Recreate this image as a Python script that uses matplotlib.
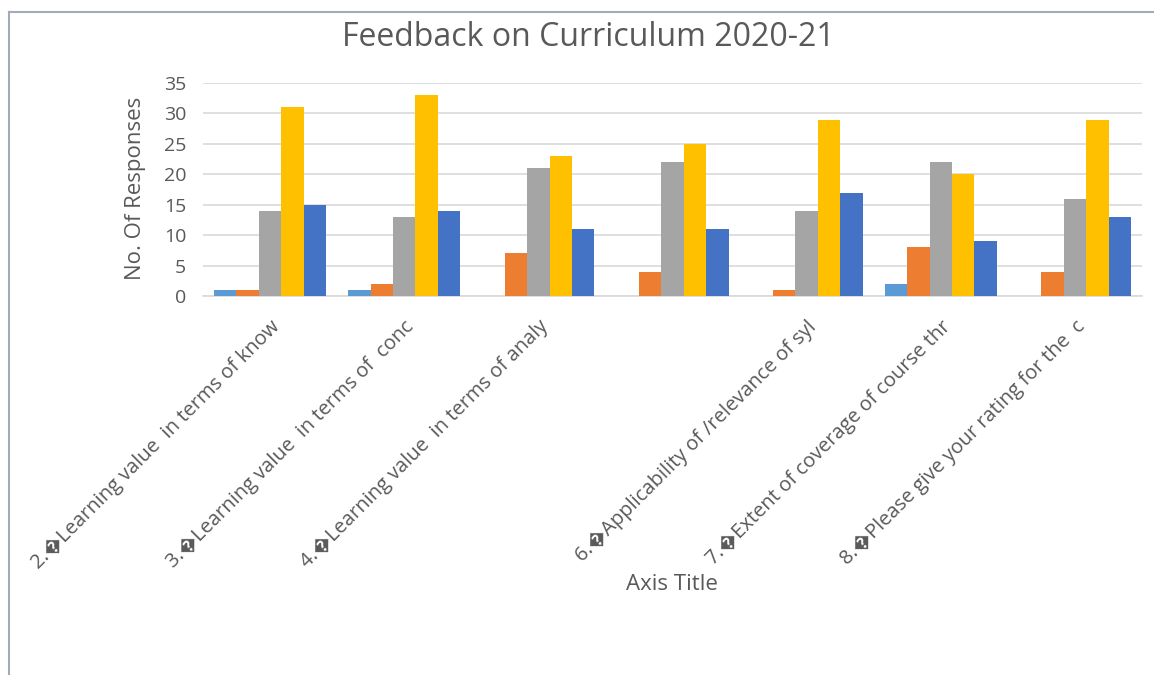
import matplotlib
matplotlib.use("Agg")
import matplotlib.pyplot as plt
from matplotlib.lines import Line2D
import numpy as np

plt.rcParams['font.family'] = ['Open Sans', 'DejaVu Sans']

categories = [
    "2.\ufffdLearning value  in terms of know",
    "3.\ufffdLearning value  in terms of  conc",
    "4.\ufffdLearning value  in terms of analy",
    "",
    "6.\ufffdApplicability of /relevance of syl",
    "7.\ufffdExtent of coverage of course thr",
    "8.\ufffdPlease give your rating for the  c",
]
series_names = ["Series 1", "Series 2", "Series 3", "Series 4", "Series 5"]
series_1 = [1, 1, 0, 0, 0, 2, 0]
series_2 = [1, 2, 7, 4, 1, 8, 4]
series_3 = [14, 13, 21, 22, 14, 22, 16]
series_4 = [31, 33, 23, 25, 29, 20, 29]
series_5 = [15, 14, 11, 11, 17, 9, 13]
colors = ["#5B9BD5", "#ED7D31", "#A5A5A5", "#FFC000", "#4472C4"]
yticks = [0, 5, 10, 15, 20, 25, 30, 35]

TXT = "#595959"
fig = plt.figure(figsize=(11.54, 6.75), dpi=100)
ax = fig.add_axes([203/1154, 1-296/675, (1142-203)/1154, (296-83)/675])

x = np.arange(len(categories))
width = 0.167
all_series = [series_1, series_2, series_3, series_4, series_5]
for i, (vals, name, c) in enumerate(zip(all_series, series_names, colors)):
    ax.bar(x + (i - 2) * width, vals, width, color=c, label=name, zorder=3)

ax.set_xlim(-0.5, len(categories) - 0.5)
ax.set_ylim(0, 35)
ax.set_yticks(yticks)
ax.set_yticklabels([str(t) for t in yticks], fontsize=14, color=TXT)
ax.yaxis.grid(True, color="#D9D9D9", linewidth=1.2, zorder=0)
ax.set_axisbelow(True)
for s in ["top", "right", "left"]:
    ax.spines[s].set_visible(False)
ax.spines["bottom"].set_color("#D9D9D9")
ax.spines["bottom"].set_linewidth(1.2)
ax.tick_params(axis="both", length=0)
ax.tick_params(axis="y", pad=12)

ax.set_xticks(x)
ax.set_xticklabels(categories, rotation=45, ha="right", rotation_mode="anchor",
                   fontsize=14.5, color=TXT)
ax.tick_params(axis="x", pad=15)

ax.set_ylabel("No. Of Responses", fontsize=16, color=TXT, va="center", ha="center")
ax.yaxis.set_label_coords(136/1154, 1-188/675, transform=fig.transFigure)
ax.set_xlabel("Axis Title", fontsize=16, color=TXT, va="center", ha="center")
ax.xaxis.set_label_coords(672/1154, 1-585/675, transform=fig.transFigure)

fig.text(588/1154, 1-38/675, "Feedback on Curriculum 2020-21", fontsize=23,
         color=TXT, ha="center", va="center")

# chart frame
fig.add_artist(Line2D([8.5/1154, 1], [1-11.5/675, 1-11.5/675], color="#A3ABB9",
                      linewidth=1.5, transform=fig.transFigure))
fig.add_artist(Line2D([8.5/1154, 8.5/1154], [0, 1-11.5/675], color="#A3ABB9",
                      linewidth=1.5, transform=fig.transFigure))

fig.savefig("out.png", dpi=100)
